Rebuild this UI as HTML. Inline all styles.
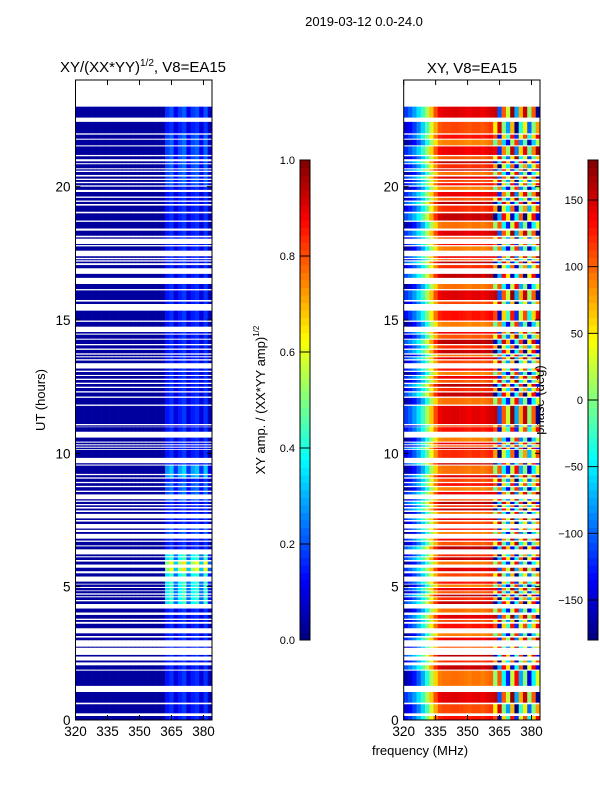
<!DOCTYPE html>
<html><head><meta charset="utf-8">
<style>
html,body{margin:0;padding:0;background:#fff;}
svg{display:block;font-family:"Liberation Sans","DejaVu Sans",sans-serif;}
</style></head>
<body>
<svg id="fig" width="600" height="800" viewBox="0 0 600 800" xmlns="http://www.w3.org/2000/svg">
  <rect x="0" y="0" width="600" height="800" fill="#fff"/>
  <text x="364" y="26" font-size="13" text-anchor="middle">2019-03-12 0.0-24.0</text>
  <text x="143" y="72" font-size="15" text-anchor="middle">XY/(XX*YY)<tspan dy="-6" font-size="10">1/2</tspan><tspan dy="6">, V8=EA15</tspan></text>
  <text x="472" y="73" font-size="15" text-anchor="middle">XY, V8=EA15</text>
  <text transform="translate(45,400) rotate(-90)" font-size="13" text-anchor="middle">UT (hours)</text>
  <text transform="translate(265,400) rotate(-90)" font-size="13" text-anchor="middle">XY amp. / (XX*YY amp)<tspan dy="-6" font-size="8">1/2</tspan></text>
  <text transform="translate(544,400) rotate(-90)" font-size="13" text-anchor="middle">phase (deg)</text>
  <text x="420" y="755" font-size="13" text-anchor="middle">frequency (MHz)</text>
  <g id="g1"></g>
</svg>
<script>
// ---- data ----
const freqEdges = [320,322,324,326,328,330,332,334,336,338,340,342,344,346,348,350,352,354,356,358,360,362,364,366,368,370,372,374,376,378,380,382,384];
const ampProfile = [0.03,0.03,0.03,0.03,0.03,0.03,0.03,0.03,0.03,0.03,0.03,0.03,0.03,0.03,0.03,0.03,0.03,0.03,0.03,0.03,0.03,0.14,0.17,0.09,0.15,0.18,0.09,0.15,0.17,0.09,0.17,0.06];
const phaseProfile = [-130,-115,-95,-70,-40,0,50,95,125,130,130,132,132,130,128,125,130,130,125,130,135,110,-150,60,-20,130,-120,30,110,-40,60,140];
const ampBands = [[22.6,23.0,1.2],[20.0,22.0,1.3],[9.0,9.6,1.9],[8.2,8.9,1.4],[6.8,7.2,1.3],[4.4,6.2,2.5],[5.5,5.9,3.6]];
const phaseShifts = [0,-20,15,-35,25,-10,30,-25,10,-40];
const dataRange = [0, 23.0];
const gaps = [[22.43,22.59],[21.95,22.0],[21.76,21.8],[21.51,21.55],[21.14,21.19],[20.95,21.03],[20.84,20.88],[20.65,20.69],[20.55,20.6],[20.38,20.44],[20.25,20.3],[20.13,20.18],[20.0,20.05],[19.8,19.88],[19.58,19.63],[19.43,19.48],[19.29,19.35],[19.0,19.06],[18.68,18.73],[18.35,18.43],[18.1,18.16],[17.85,18.05],[17.76,17.81],[17.39,17.6],[17.28,17.33],[17.19,17.24],[17.06,17.13],[16.73,16.94],[16.35,16.58],[16.11,16.16],[15.69,15.75],[15.35,15.6],[14.93,14.98],[14.55,14.75],[14.45,14.49],[14.26,14.3],[14.05,14.1],[13.88,13.93],[13.7,13.75],[13.6,13.64],[13.48,13.53],[13.18,13.38],[13.05,13.1],[12.9,12.94],[12.75,12.8],[12.6,12.65],[12.45,12.5],[12.28,12.33],[12.08,12.13],[11.78,11.83],[11.05,11.1],[10.98,11.0],[10.59,10.81],[10.4,10.44],[10.3,10.34],[10.21,10.25],[10.13,10.16],[9.63,9.83],[9.54,9.58],[9.18,9.23],[9.05,9.1],[8.88,8.93],[8.73,8.78],[8.55,8.6],[8.28,8.46],[8.18,8.23],[8.05,8.1],[7.93,7.99],[7.8,7.86],[7.56,7.73],[7.44,7.5],[7.18,7.35],[7.05,7.13],[6.8,6.98],[6.68,6.73],[6.51,6.55],[6.21,6.4],[6.1,6.14],[5.94,6.0],[5.71,5.83],[5.5,5.58],[5.19,5.38],[5.08,5.11],[4.95,4.99],[4.83,4.86],[4.7,4.75],[4.6,4.64],[4.45,4.5],[4.18,4.35],[3.94,4.03],[3.75,3.8],[3.61,3.68],[3.25,3.44],[3.09,3.15],[2.75,2.99],[2.44,2.71],[2.23,2.38],[2.05,2.16],[1.85,1.89],[1.05,1.28],[0.59,0.65],[0.15,0.25]];
const xTicks = [320,335,350,365,380];
const yTicks = [0,5,10,15,20];
const ampTicks = [0.0,0.2,0.4,0.6,0.8,1.0];
const ampTickLabels = ["0.0","0.2","0.4","0.6","0.8","1.0"];
const phaseTicks = [-150,-100,-50,0,50,100,150];
const phaseTickLabels = ["\u2212150","\u2212100","\u221250","0","50","100","150"];

// ---- helpers ----
const NS="http://www.w3.org/2000/svg";
const root=document.getElementById('g1');
function mk(tag,attrs,parent){const e=document.createElementNS(NS,tag);for(const k in attrs)e.setAttribute(k,attrs[k]);(parent||root).appendChild(e);return e;}
function jet(v){v=Math.max(0,Math.min(1,v));
  const r=Math.max(0,Math.min(1,Math.min(4*v-1.5,-4*v+4.5)));
  const g=Math.max(0,Math.min(1,Math.min(4*v-0.5,-4*v+3.5)));
  const b=Math.max(0,Math.min(1,Math.min(4*v+0.5,-4*v+2.5)));
  return `rgb(${Math.round(r*255)},${Math.round(g*255)},${Math.round(b*255)})`;}
const panels=[{x0:75.5,x1:212,name:'amp'},{x0:403.7,x1:540,name:'phase'}];
const Y0=720,Y1=80;
function yS(h){return Y0-(h/24)*(Y0-Y1);}
function xS(p,f){return p.x0+(f-320)/(384-320)*(p.x1-p.x0);}

const sortedGaps=gaps.slice().sort((a,b)=>a[0]-b[0]);
const segs=[];let cur=dataRange[0];
for(const g of sortedGaps){if(g[0]>cur)segs.push([cur,g[0]]);cur=Math.max(cur,g[1]);}
if(cur<dataRange[1])segs.push([cur,dataRange[1]]);

function gainAt(h){let g=1;for(const b of ampBands){if(h>=b[0]&&h<=b[1])g=Math.max(g,b[2]);}return g;}

panels.forEach((p,pi)=>{
  const g=mk('g',{});
  
  
  segs.forEach((s,si)=>{
    const yTop=yS(s[1]),yBot=yS(s[0]);
    const mid=(s[0]+s[1])/2;
    for(let c=0;c<freqEdges.length-1;c++){
      let v;
      if(pi===0){v=ampProfile[c]*(c>=21?gainAt(mid):1);}
      else{let ph=phaseProfile[c]+phaseShifts[si%phaseShifts.length]*(c>=21?3:1);
        ph=((ph+180)%360+360)%360-180;v=(ph+180)/360;}
      const xa=xS(p,freqEdges[c]),xb=xS(p,freqEdges[c+1]);
      const r=mk('rect',{x:xa.toFixed(2),y:yTop.toFixed(2),width:(xb-xa+0.3).toFixed(2),height:(yBot-yTop).toFixed(2),fill:jet(v)},g);
      
      
    }
  });
  const fr=mk('rect',{x:p.x0,y:Y1,width:p.x1-p.x0,height:Y0-Y1,fill:'none',stroke:'#000','stroke-width':1});
  
  
  xTicks.forEach(t=>{const x=xS(p,t);
    mk('line',{x1:x,x2:x,y1:Y0,y2:Y0-5,stroke:'#000'});
    mk('line',{x1:x,x2:x,y1:Y1,y2:Y1+5,stroke:'#000'});
    const tx=mk('text',{x:x,y:Y0+16,'font-size':13.5,'text-anchor':'middle'});
    tx.textContent=t;
    
    
  });
  yTicks.forEach(t=>{const y=yS(t);
    mk('line',{x1:p.x0,x2:p.x0+5,y1:y,y2:y,stroke:'#000'});
    mk('line',{x1:p.x1,x2:p.x1-5,y1:y,y2:y,stroke:'#000'});
    const tx=mk('text',{x:p.x0-5,y:y+5,'font-size':13.5,'text-anchor':'end'});
    tx.textContent=t;
    
    
  });
});

function colorbar(x,w,vmin,vmax,ticks,labels,name){
  const g=mk('g',{});
  
  
  const top=160,bot=640,n=64;
  for(let i=0;i<n;i++){const y=bot-(i+1)*(bot-top)/n;
    mk('rect',{x:x,y:y.toFixed(2),width:w,height:((bot-top)/n+0.5).toFixed(2),fill:jet((i+0.5)/n)},g);}
  mk('rect',{x:x,y:top,width:w,height:bot-top,fill:'none',stroke:'#000'},g);
  ticks.forEach((t,i)=>{const y=bot-(t-vmin)/(vmax-vmin)*(bot-top);
    mk('line',{x1:x,x2:x+w,y1:y,y2:y,stroke:'#000'},g);
    const tx=mk('text',{x:x-5,y:y+4,'font-size':11,'text-anchor':'end'},g);
    tx.textContent=labels[i];
    
    
  });
}
colorbar(300,10,0,1,ampTicks,ampTickLabels,'amp-colorbar');
colorbar(588,10,-180,180,phaseTicks,phaseTickLabels,'phase-colorbar');
</script>
</body></html>
